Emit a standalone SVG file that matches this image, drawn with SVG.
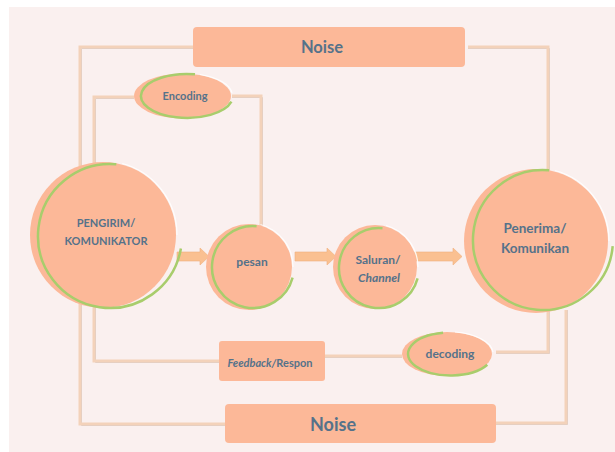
<svg xmlns="http://www.w3.org/2000/svg" width="615" height="452" viewBox="0 0 615 452">
<defs>
<style>
.bg{fill:#FAF0EF}
.box{fill:#FCB898}
.node{fill:#FCB898}
.ring{fill:none;stroke:#A8CD6C;stroke-width:2.5}
.hl{fill:none;stroke:#FFFFFF;stroke-width:1.2;opacity:0.85}
.ln{fill:none;stroke:#F3D2BA;stroke-width:3}
.sh{fill:none;stroke:#D9CDC9;stroke-width:1}
.arr{fill:#FAC091;stroke:#F0B07E;stroke-width:0.6}
text{font-family:Lato,"Open Sans","DejaVu Sans",sans-serif;font-weight:bold;fill:#55728A;text-anchor:middle}
.t11{font-size:11px}
.t12{font-size:12px}
.t13{font-size:13.5px}
.n1{font-size:16.5px}
.n2{font-size:18px}
</style>
</defs>
<rect x="0" y="0" width="615" height="452" fill="#FFFFFF"/>
<rect class="bg" x="9" y="7" width="606" height="445"/>

<g id="connectors">
<polyline class="sh" points="193,48.5 81.5,48.5 81.5,425.5 225,425.5"/>
<polyline class="ln" points="193,47 80,47 80,424 225,424"/>
<polyline class="sh" points="134,98.5 95.5,98.5 95.5,362.5 219,362.5"/>
<polyline class="ln" points="134,97 94,97 94,361 219,361"/>
<polyline class="sh" points="232,97.5 262.5,97.5 262.5,226"/>
<polyline class="ln" points="232,96 261,96 261,226"/>
<polyline class="sh" points="468,48.5 549.5,48.5 549.5,172"/>
<polyline class="ln" points="468,47 548,47 548,172"/>
<polyline class="sh" points="325,357.5 402,357.5"/>
<polyline class="ln" points="325,356 402,356"/>
<polyline class="sh" points="496,353.5 549.5,353.5 549.5,310"/>
<polyline class="ln" points="496,352 548,352 548,310"/>
<polyline class="sh" points="496,424.5 567.5,424.5 567.5,310"/>
<polyline class="ln" points="496,423 566,423 566,310"/>
<path class="arr" d="M177,252 H200 V248 L209,256.5 L200,265 V261 H177 Z"/>
<path class="arr" d="M295,252 H327 V248 L336,256.5 L327,265 V261 H295 Z"/>
<path class="arr" d="M414,252 H453 V248 L462,256.5 L453,265 V261 H414 Z"/>
</g>

<g id="noise-top">
<rect class="box" x="193" y="27" width="272" height="40" rx="4"/>
<text class="n1" x="322" y="53">Noise</text>
</g>

<g id="encoding">
<ellipse class="node" cx="182.5" cy="96" rx="48.5" ry="22.5"/>
<path class="ring" d="M195,74.3 A46,22 0 1 0 231.4,101.7"/>
<path class="hl" d="M200,74.5 A47,22 0 0 1 232,93"/>
<text class="t11" x="185" y="100">Encoding</text>
</g>

<g id="pengirim">
<circle class="node" cx="103" cy="235" r="73"/>
<path class="ring" d="M116.3,164.3 A72,72 0 1 0 180.9,248.5"/>
<path class="hl" d="M122.2,163.5 A74,74 0 0 1 177,235"/>
<text class="t11" x="106" y="227">PENGIRIM/</text>
<text class="t11" x="106" y="245">KOMUNIKATOR</text>
</g>

<g id="pesan">
<circle class="node" cx="249" cy="267" r="43"/>
<path class="ring" d="M256.6,226.2 A41,41 0 1 0 292.6,277.6"/>
<path class="hl" d="M260.4,224.5 A44,44 0 0 1 293,267"/>
<text class="t12" x="252" y="266">pesan</text>
</g>

<g id="saluran">
<circle class="node" cx="375" cy="267" r="42"/>
<path class="ring" d="M382.5,228.2 A40,40 0 1 0 417.6,278.4"/>
<path class="hl" d="M386.1,225.5 A43,43 0 0 1 418,267"/>
<text class="t12" x="378" y="264">Saluran/</text>
<text class="t12" x="379" y="282" font-style="italic">Channel</text>
</g>

<g id="penerima">
<circle class="node" cx="536" cy="241" r="72"/>
<path class="ring" d="M549.1,170.3 A70,70 0 1 0 612.7,246.1"/>
<path class="hl" d="M554.9,170.5 A73,73 0 0 1 609,241"/>
<text class="t13" x="535" y="233">Penerima/</text>
<text class="t13" x="535" y="253">Komunikan</text>
</g>

<g id="feedback">
<rect class="box" x="219" y="341" width="106" height="40" rx="3"/>
<text class="t11" x="270" y="367"><tspan font-style="italic">Feedback/</tspan>Respon</text>
</g>

<g id="decoding">
<ellipse class="node" cx="447" cy="354" rx="45" ry="22"/>
<path class="ring" d="M443.1,332.8 A42.5,21.5 0 1 0 487.3,364.75"/>
<path class="hl" d="M455,332 A45,22 0 0 1 493,352"/>
<text class="t12" x="450" y="358">decoding</text>
</g>

<g id="noise-bottom">
<rect class="box" x="225" y="404" width="271" height="39" rx="4"/>
<text class="n2" x="333" y="431">Noise</text>
</g>
</svg>
